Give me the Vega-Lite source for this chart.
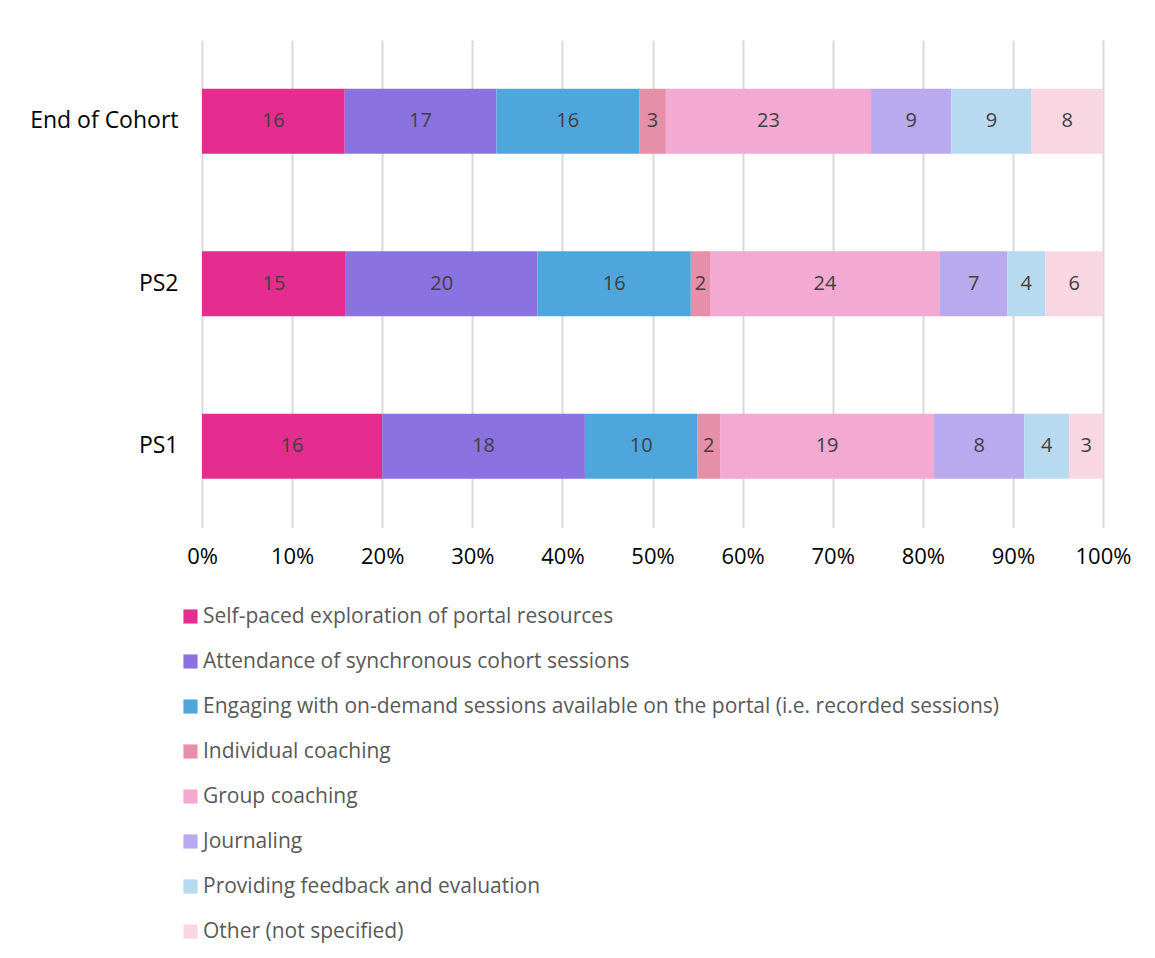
{
  "$schema": "https://vega.github.io/schema/vega-lite/v6.json",
  "width": 901,
  "height": 487.5,
  "autosize": "none",
  "padding": {"left": 202, "top": 40, "right": 52, "bottom": 430},
  "background": "white",
  "config": {"view": {"stroke": null}, "font": "Open Sans"},
  "data": {
    "values": [
      {"stage": "End of Cohort", "activity": "Self-paced exploration of portal resources", "ord": 0, "count": 16},
      {"stage": "End of Cohort", "activity": "Attendance of synchronous cohort sessions", "ord": 1, "count": 17},
      {"stage": "End of Cohort", "activity": "Engaging with on-demand sessions available on the portal (i.e. recorded sessions)", "ord": 2, "count": 16},
      {"stage": "End of Cohort", "activity": "Individual coaching", "ord": 3, "count": 3},
      {"stage": "End of Cohort", "activity": "Group coaching", "ord": 4, "count": 23},
      {"stage": "End of Cohort", "activity": "Journaling", "ord": 5, "count": 9},
      {"stage": "End of Cohort", "activity": "Providing feedback and evaluation", "ord": 6, "count": 9},
      {"stage": "End of Cohort", "activity": "Other (not specified)", "ord": 7, "count": 8},
      {"stage": "PS2", "activity": "Self-paced exploration of portal resources", "ord": 0, "count": 15},
      {"stage": "PS2", "activity": "Attendance of synchronous cohort sessions", "ord": 1, "count": 20},
      {"stage": "PS2", "activity": "Engaging with on-demand sessions available on the portal (i.e. recorded sessions)", "ord": 2, "count": 16},
      {"stage": "PS2", "activity": "Individual coaching", "ord": 3, "count": 2},
      {"stage": "PS2", "activity": "Group coaching", "ord": 4, "count": 24},
      {"stage": "PS2", "activity": "Journaling", "ord": 5, "count": 7},
      {"stage": "PS2", "activity": "Providing feedback and evaluation", "ord": 6, "count": 4},
      {"stage": "PS2", "activity": "Other (not specified)", "ord": 7, "count": 6},
      {"stage": "PS1", "activity": "Self-paced exploration of portal resources", "ord": 0, "count": 16},
      {"stage": "PS1", "activity": "Attendance of synchronous cohort sessions", "ord": 1, "count": 18},
      {"stage": "PS1", "activity": "Engaging with on-demand sessions available on the portal (i.e. recorded sessions)", "ord": 2, "count": 10},
      {"stage": "PS1", "activity": "Individual coaching", "ord": 3, "count": 2},
      {"stage": "PS1", "activity": "Group coaching", "ord": 4, "count": 19},
      {"stage": "PS1", "activity": "Journaling", "ord": 5, "count": 8},
      {"stage": "PS1", "activity": "Providing feedback and evaluation", "ord": 6, "count": 4},
      {"stage": "PS1", "activity": "Other (not specified)", "ord": 7, "count": 3}
    ]
  },
  "transform": [
    {"stack": "count", "groupby": ["stage"], "sort": [{"field": "ord", "order": "ascending"}], "offset": "normalize", "as": ["x0", "x1"]},
    {"calculate": "(datum.x0 + datum.x1) / 2", "as": "xm"}
  ],
  "encoding": {
    "y": {
      "field": "stage", "type": "nominal", "sort": ["End of Cohort", "PS2", "PS1"],
      "scale": {"paddingInner": 0.6, "paddingOuter": 0.3},
      "axis": {"title": null, "ticks": false, "domain": false, "labelFontSize": 23, "labelColor": "#000000", "labelPadding": 24}
    }
  },
  "layer": [
    {
      "mark": {"type": "bar"},
      "encoding": {
        "x": {
          "field": "x0", "type": "quantitative",
          "scale": {"domain": [0, 1], "nice": false},
          "axis": {"title": null, "format": "%", "values": [0, 0.1, 0.2, 0.3, 0.4, 0.5, 0.6, 0.7, 0.8, 0.9, 1], "grid": true, "gridColor": "#d9d9d9", "gridWidth": 2, "ticks": false, "domain": false, "labelFontSize": 22, "labelColor": "#000000", "labelPadding": 19, "labelFlush": false}
        },
        "x2": {"field": "x1"},
        "color": {
          "field": "activity", "type": "nominal",
          "sort": {"field": "ord"},
          "scale": {
            "domain": ["Self-paced exploration of portal resources", "Attendance of synchronous cohort sessions", "Engaging with on-demand sessions available on the portal (i.e. recorded sessions)", "Individual coaching", "Group coaching", "Journaling", "Providing feedback and evaluation", "Other (not specified)"],
            "range": ["#E42D8F", "#8A72E0", "#4FA6DC", "#E68FA8", "#F2A9D2", "#B9A9EE", "#B8DAF0", "#F8D7E3"]
          },
          "legend": {
            "title": null, "orient": "none", "legendX": -22, "legendY": 566, "direction": "vertical",
            "symbolType": "square", "symbolSize": 200, "symbolStrokeWidth": 0, "symbolOpacity": 1,
            "labelFontSize": 21, "labelColor": "#595959", "labelLimit": 1000, "labelOffset": 2,
            "rowPadding": 23
          }
        }
      }
    },
    {
      "mark": {"type": "text", "fontSize": 20, "color": "#404040", "baseline": "middle", "align": "center"},
      "encoding": {
        "x": {"field": "xm", "type": "quantitative"},
        "text": {"field": "count", "type": "quantitative"}
      }
    }
  ]
}
